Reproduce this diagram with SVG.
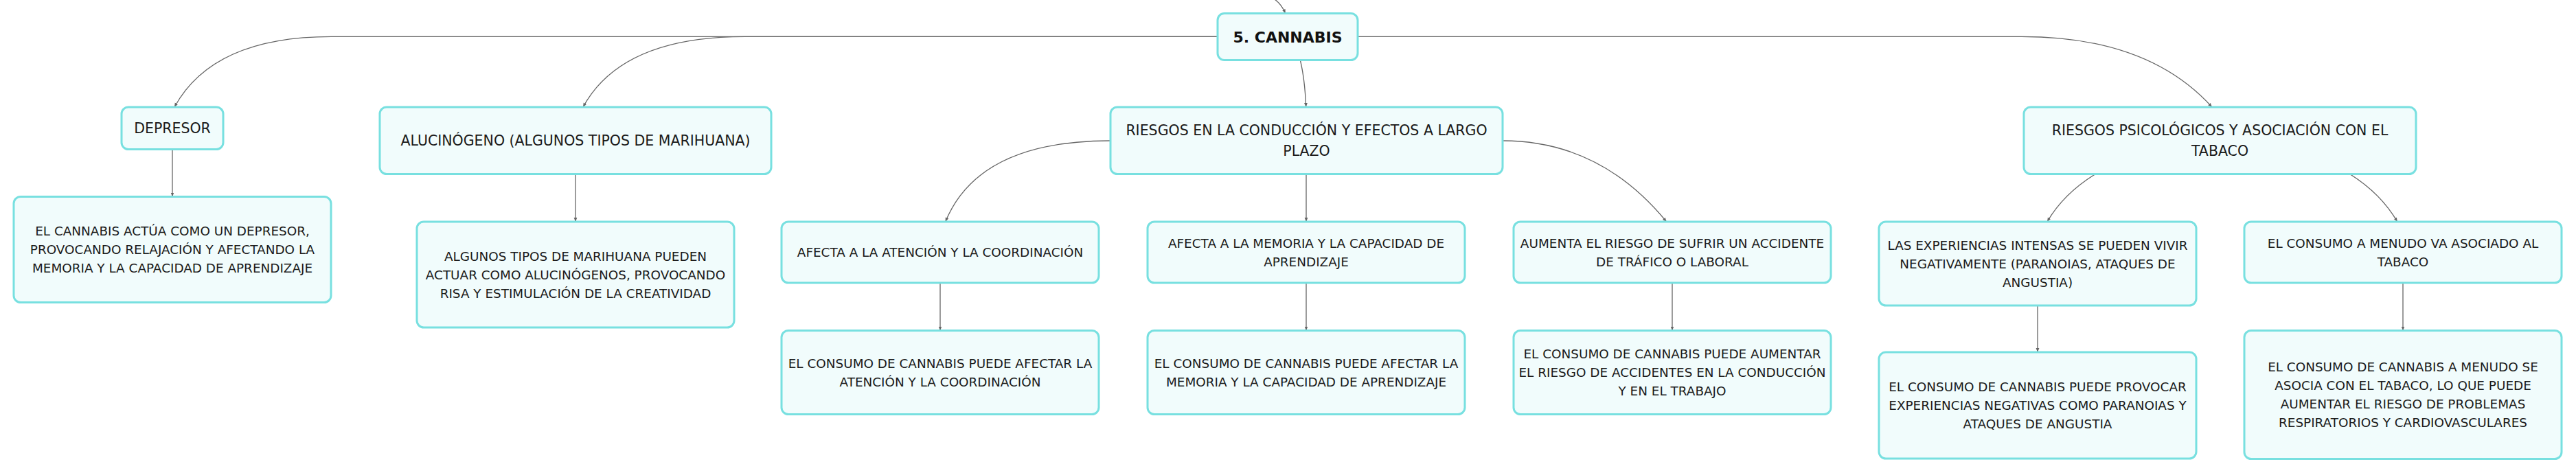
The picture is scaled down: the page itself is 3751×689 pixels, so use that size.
<svg xmlns="http://www.w3.org/2000/svg" width="3751" height="689" viewBox="0 0 3751 689">
<style>
.bg{fill:#ffffff}
.box{fill:#f1fcfc;stroke:#78e0e0;stroke-width:3}
.t{font-family:"DejaVu Sans","Liberation Sans",sans-serif;font-size:18.4px;fill:#1a1a1a;text-anchor:middle}
.m{font-size:20.5px}
.root{font-family:"DejaVu Sans","Liberation Sans",sans-serif;font-size:22px;font-weight:bold;fill:#111;text-anchor:middle}
.c{fill:none;stroke:#666;stroke-width:1.3;marker-end:url(#arr)}
</style>
<defs>
<marker id="arr" viewBox="0 0 10 10" refX="10" refY="5" markerWidth="6" markerHeight="6" markerUnits="userSpaceOnUse" orient="auto"><path d="M0,1 L10,5 L0,9 z" fill="#666"/></marker>
</defs>
<rect class="bg" x="0" y="0" width="3751" height="689"/>
<g id="connectors">
<path class="c" d="M1856,-1 Q1866,6 1871.7,19.5"/>
<path class="c" d="M1773,53.3 L482.6,53.3 Q310,53.3 254,156"/>
<path class="c" d="M1773,53.3 L1085,53.3 Q905,53.3 849,156"/>
<path class="c" d="M1893.3,87.5 Q1900,115 1901.7,156"/>
<path class="c" d="M1977,53.3 L2944,53.3 Q3128,53.3 3221,156"/>
<path class="c" d="M251,217.5 L251,286.5"/>
<path class="c" d="M838,253.5 L838,323"/>
<path class="c" d="M1617,205 Q1425,205 1376.7,323"/>
<path class="c" d="M1902,253.5 L1902,323"/>
<path class="c" d="M2188,205 Q2330,205 2426.7,323"/>
<path class="c" d="M3051.3,253.5 Q3005,282 2981,323"/>
<path class="c" d="M3421.6,253.5 Q3467,282 3490.8,323"/>
<path class="c" d="M1369,412 L1369,481.5"/>
<path class="c" d="M1902,412 L1902,481.5"/>
<path class="c" d="M2435,412 L2435,481.5"/>
<path class="c" d="M2967,445 L2967,513"/>
<path class="c" d="M3499,412 L3499,481.5"/>
</g>
<g id="n-cannabis"><rect class="box" x="1773" y="19.5" width="204" height="68" rx="10"/><text class="root" x="1875" y="61.5">5. CANNABIS</text></g>
<g id="n-depresor"><rect class="box" x="177" y="156" width="148" height="61.5" rx="10"/><text class="t m" x="251" y="194.2">DEPRESOR</text></g>
<g id="n-alucinogeno"><rect class="box" x="553" y="156" width="570" height="97.5" rx="10"/><text class="t m" x="838" y="212.3">ALUCINÓGENO (ALGUNOS TIPOS DE MARIHUANA)</text></g>
<g id="n-riesgos-conduccion"><rect class="box" x="1617" y="156" width="571" height="97.5" rx="10"/><text class="t m" x="1902.5" y="197.3">RIESGOS EN LA CONDUCCIÓN Y EFECTOS A LARGO</text><text class="t m" x="1902.5" y="227.3">PLAZO</text></g>
<g id="n-riesgos-psico"><rect class="box" x="2947" y="156" width="571" height="97.5" rx="10"/><text class="t m" x="3232.5" y="197.3">RIESGOS PSICOLÓGICOS Y ASOCIACIÓN CON EL</text><text class="t m" x="3232.5" y="227.3">TABACO</text></g>
<g id="n-depresor-det"><rect class="box" x="20" y="286.5" width="462" height="154" rx="10"/><text class="t" x="251" y="343.2">EL CANNABIS ACTÚA COMO UN DEPRESOR,</text><text class="t" x="251" y="370.2">PROVOCANDO RELAJACIÓN Y AFECTANDO LA</text><text class="t" x="251" y="397.2">MEMORIA Y LA CAPACIDAD DE APRENDIZAJE</text></g>
<g id="n-alucinogeno-det"><rect class="box" x="607" y="323" width="462" height="154" rx="10"/><text class="t" x="838" y="379.7">ALGUNOS TIPOS DE MARIHUANA PUEDEN</text><text class="t" x="838" y="406.7">ACTUAR COMO ALUCINÓGENOS, PROVOCANDO</text><text class="t" x="838" y="433.7">RISA Y ESTIMULACIÓN DE LA CREATIVIDAD</text></g>
<g id="n-atencion"><rect class="box" x="1138" y="323" width="462" height="89" rx="10"/><text class="t" x="1369" y="374.2">AFECTA A LA ATENCIÓN Y LA COORDINACIÓN</text></g>
<g id="n-atencion-det"><rect class="box" x="1138" y="481.5" width="462" height="122" rx="10"/><text class="t" x="1369" y="535.7">EL CONSUMO DE CANNABIS PUEDE AFECTAR LA</text><text class="t" x="1369" y="562.7">ATENCIÓN Y LA COORDINACIÓN</text></g>
<g id="n-memoria"><rect class="box" x="1671" y="323" width="462" height="89" rx="10"/><text class="t" x="1902" y="360.7">AFECTA A LA MEMORIA Y LA CAPACIDAD DE</text><text class="t" x="1902" y="387.7">APRENDIZAJE</text></g>
<g id="n-memoria-det"><rect class="box" x="1671" y="481.5" width="462" height="122" rx="10"/><text class="t" x="1902" y="535.7">EL CONSUMO DE CANNABIS PUEDE AFECTAR LA</text><text class="t" x="1902" y="562.7">MEMORIA Y LA CAPACIDAD DE APRENDIZAJE</text></g>
<g id="n-accidente"><rect class="box" x="2204" y="323" width="462" height="89" rx="10"/><text class="t" x="2435" y="360.7">AUMENTA EL RIESGO DE SUFRIR UN ACCIDENTE</text><text class="t" x="2435" y="387.7">DE TRÁFICO O LABORAL</text></g>
<g id="n-accidente-det"><rect class="box" x="2204" y="481.5" width="462" height="122" rx="10"/><text class="t" x="2435" y="522.2">EL CONSUMO DE CANNABIS PUEDE AUMENTAR</text><text class="t" x="2435" y="549.2">EL RIESGO DE ACCIDENTES EN LA CONDUCCIÓN</text><text class="t" x="2435" y="576.2">Y EN EL TRABAJO</text></g>
<g id="n-experiencias"><rect class="box" x="2736" y="323" width="462" height="122" rx="10"/><text class="t" x="2967" y="363.7">LAS EXPERIENCIAS INTENSAS SE PUEDEN VIVIR</text><text class="t" x="2967" y="390.7">NEGATIVAMENTE (PARANOIAS, ATAQUES DE</text><text class="t" x="2967" y="417.7">ANGUSTIA)</text></g>
<g id="n-experiencias-det"><rect class="box" x="2736" y="513" width="462" height="155" rx="10"/><text class="t" x="2967" y="570.2">EL CONSUMO DE CANNABIS PUEDE PROVOCAR</text><text class="t" x="2967" y="597.2">EXPERIENCIAS NEGATIVAS COMO PARANOIAS Y</text><text class="t" x="2967" y="624.2">ATAQUES DE ANGUSTIA</text></g>
<g id="n-tabaco"><rect class="box" x="3268" y="323" width="462" height="89" rx="10"/><text class="t" x="3499" y="360.7">EL CONSUMO A MENUDO VA ASOCIADO AL</text><text class="t" x="3499" y="387.7">TABACO</text></g>
<g id="n-tabaco-det"><rect class="box" x="3268" y="481.5" width="462" height="187" rx="10"/><text class="t" x="3499" y="541.2">EL CONSUMO DE CANNABIS A MENUDO SE</text><text class="t" x="3499" y="568.2">ASOCIA CON EL TABACO, LO QUE PUEDE</text><text class="t" x="3499" y="595.2">AUMENTAR EL RIESGO DE PROBLEMAS</text><text class="t" x="3499" y="622.2">RESPIRATORIOS Y CARDIOVASCULARES</text></g>
</svg>
